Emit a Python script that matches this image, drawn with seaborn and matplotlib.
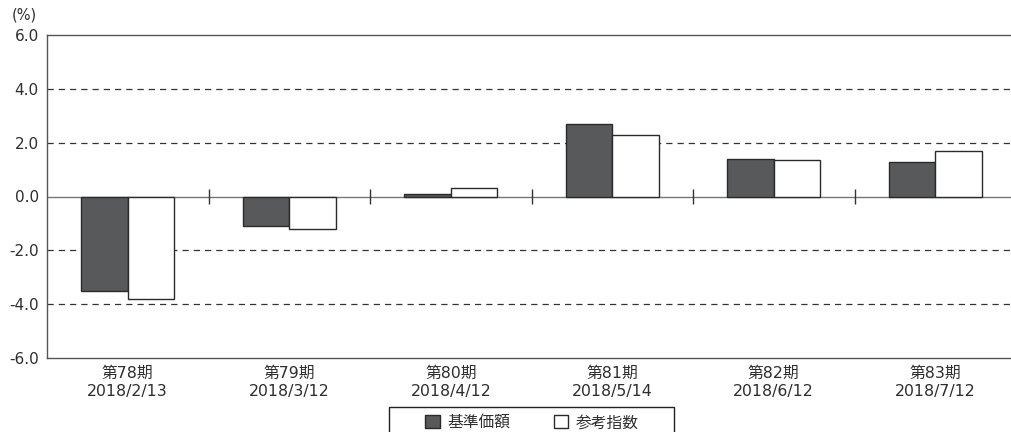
import matplotlib
matplotlib.use("Agg")
import matplotlib.pyplot as plt
import matplotlib.patches as mpatches
import seaborn as sns
import pandas as pd
import numpy as np

periods = ["第78期\n2018/2/13", "第79期\n2018/3/12", "第80期\n2018/4/12",
           "第81期\n2018/5/14", "第82期\n2018/6/12", "第83期\n2018/7/12"]
series_names = ["基準価額", "参考指数"]
nav_values = [-3.5, -1.1, 0.1, 2.7, 1.4, 1.3]
ref_values = [-3.8, -1.2, 0.3, 2.3, 1.35, 1.7]
yticks = [-6.0, -4.0, -2.0, 0.0, 2.0, 4.0, 6.0]

df = pd.DataFrame({
    "period": periods * 2,
    "series": [series_names[0]] * len(periods) + [series_names[1]] * len(periods),
    "value": nav_values + ref_values,
})

sns.set_style("white")
plt.rcParams["font.family"] = ["DejaVu Sans", "Noto Sans CJK JP"]

TXT = "#2e2e2e"
W, H = 1011, 432
fig = plt.figure(figsize=(W / 100, H / 100), dpi=100)
left, right, top, bottom = 47, 1016, 35, 358
ax = fig.add_axes([left / W, 1 - bottom / H, (right - left) / W, (bottom - top) / H])

sns.barplot(data=df, x="period", y="value", hue="series", order=periods,
            hue_order=series_names, palette=["#58595b", "#ffffff"],
            edgecolor="#2a2a2a", linewidth=1.0, width=0.576, gap=0,
            errorbar=None, ax=ax, legend=True, zorder=3)

ax.set_xlim(-0.5, len(periods) - 0.5)
ax.set_ylim(-6, 6)
ax.set_yticks(yticks)
ax.set_yticklabels([f"{v:.1f}" for v in yticks], fontsize=11, color=TXT)
ax.tick_params(axis="y", length=0, pad=6)
ax.tick_params(axis="x", length=0, pad=6)
for lab in ax.get_xticklabels():
    lab.set_fontsize(11.3)
    lab.set_color(TXT)
    lab.set_linespacing(1.25)
ax.set_xlabel("")
ax.set_ylabel("")

for v in [-4, -2, 2, 4]:
    ax.axhline(v, color="#333333", linestyle=(0, (5, 4)), linewidth=0.9, zorder=1)
ax.axhline(0, color="#777777", linewidth=1.0, zorder=2)

# group separator ticks on the zero line
seps = np.arange(len(periods) - 1) + 0.5
ax.vlines(seps, -0.27, 0.27, color="#333333", linewidth=1.0, zorder=2)

for s in ["left", "top", "bottom"]:
    ax.spines[s].set_color("#555555")
    ax.spines[s].set_linewidth(1.0)
ax.spines["right"].set_visible(False)

fig.text(12 / W, 1 - 15 / H, "(%)", fontsize=10.5, va="center", ha="left", color=TXT)

handles, labels = ax.get_legend_handles_labels()
if ax.legend_:
    ax.legend_.remove()
leg = fig.legend(handles, labels, loc="upper center",
                 bbox_to_anchor=(532 / W, 1 - 412 / H), ncol=2, frameon=False,
                 fontsize=11.3, handlelength=0.92, handleheight=0.92,
                 handletextpad=0.46, columnspacing=2.8, borderpad=0.2,
                 borderaxespad=0)
for t in leg.get_texts():
    t.set_color(TXT)

frame = mpatches.Rectangle((389 / W, -0.05), (674 - 389) / W, (1 - 407 / H) + 0.05,
                           transform=fig.transFigure, fill=False,
                           edgecolor="#222222", linewidth=1.0)
fig.add_artist(frame)

fig.savefig("out.png", dpi=100)
